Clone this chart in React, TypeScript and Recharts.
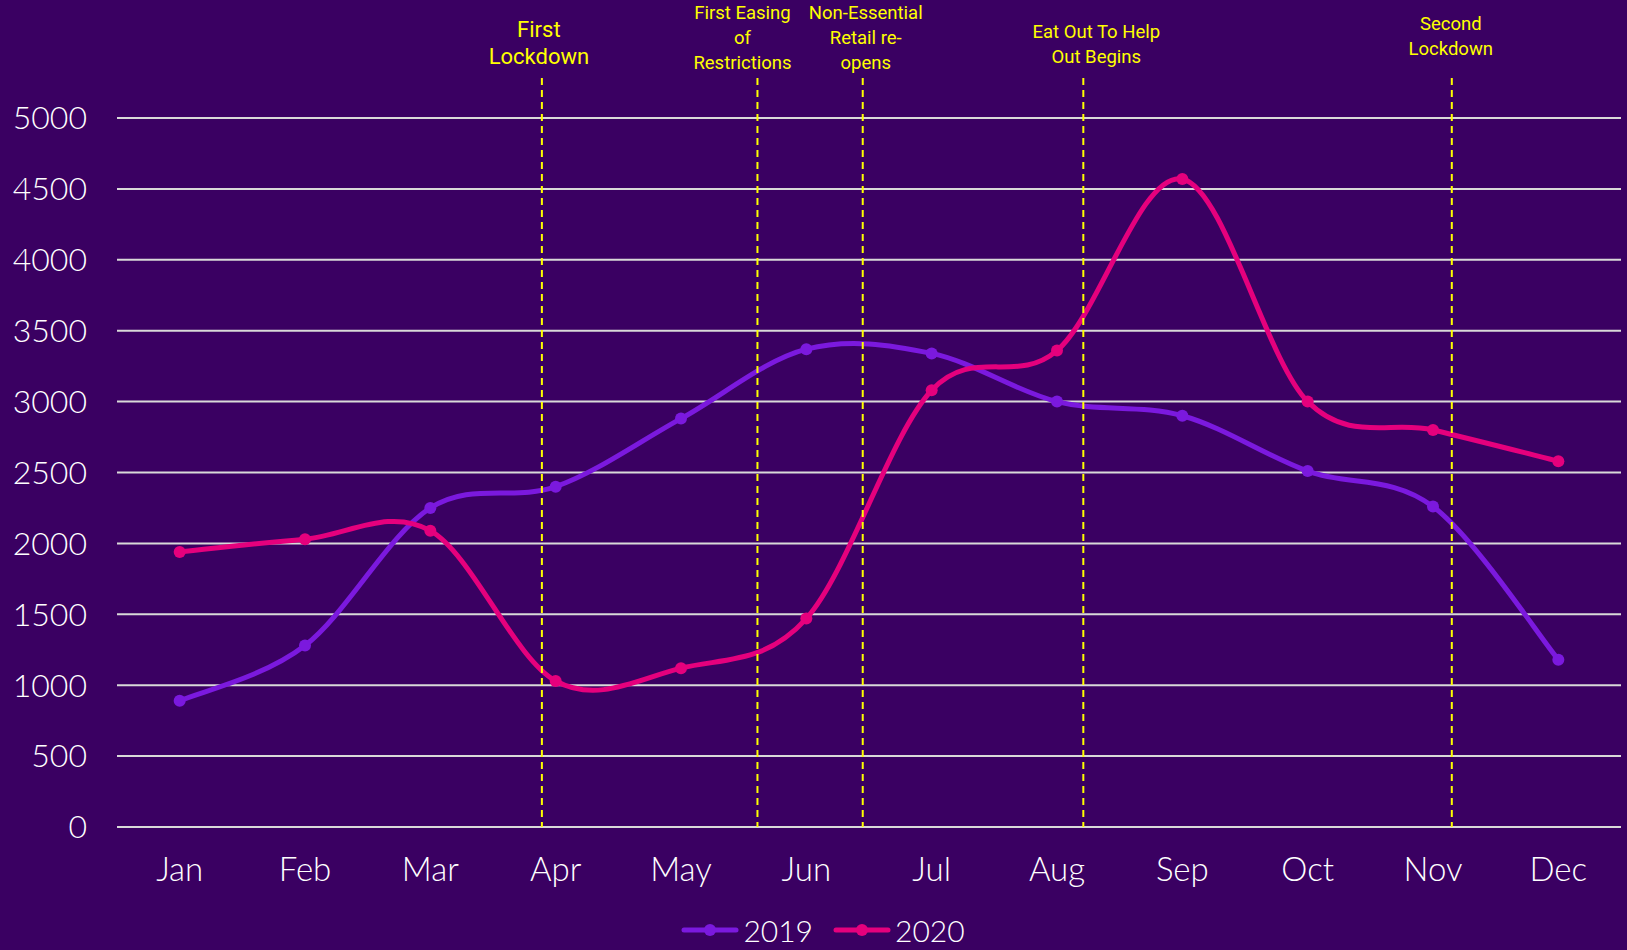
import React from 'react';
import { LineChart, Line, XAxis, YAxis, CartesianGrid, ReferenceLine, Legend } from 'recharts';

// Monthly figures, 2019 vs 2020
const months = ['Jan', 'Feb', 'Mar', 'Apr', 'May', 'Jun', 'Jul', 'Aug', 'Sep', 'Oct', 'Nov', 'Dec'];
const monthIndex = [1, 2, 3, 4, 5, 6, 7, 8, 9, 10, 11, 12];
const values2019 = [890, 1280, 2250, 2400, 2880, 3370, 3340, 3000, 2900, 2510, 2260, 1180];
const values2020 = [1940, 2030, 2090, 1030, 1120, 1470, 3080, 3360, 4570, 3000, 2800, 2580];
const yTicks = [0, 500, 1000, 1500, 2000, 2500, 3000, 3500, 4000, 4500, 5000];

// Key events, placed on the month scale (1 = Jan … 12 = Dec)
const eventAt = [3.89, 5.61, 6.45, 8.21, 11.15];
const eventText = [
  ['First', 'Lockdown'],
  ['First Easing', 'of', 'Restrictions'],
  ['Non-Essential', 'Retail re-', 'opens'],
  ['Eat Out To Help', 'Out Begins'],
  ['Second', 'Lockdown'],
];

const data = monthIndex.map((m, i) => ({
  m,
  y2019: values2019[i],
  y2020: values2020[i],
}));

// Styling
const BG = '#3A0062';
const C2019 = '#7B19DE';
const C2020 = '#E5007D';
const GRID = '#D9D9D9';
const YELLOW = '#FFFF00';
const FONT = 'Lato, "Noto Sans", sans-serif';
const CAPTION_FONT = 'Roboto, "Noto Sans", sans-serif';

// caption placement: horizontal shift from the marker, font size, row centres
const captionLayout = [
  { dx: -3, size: 22, rows: [29, 56] },
  { dx: -15, size: 18.5, rows: [12.5, 37, 62] },
  { dx: 3, size: 18.5, rows: [12.5, 37, 62] },
  { dx: 13, size: 18.5, rows: [31, 56] },
  { dx: -1, size: 18.5, rows: [23, 48] },
];
const MARKER_TOP = 78;

// Smooth curve through every point (cubic Bézier, Catmull-Rom style tangents)
function smoothCurve(context: any) {
  let pts: number[][] = [];
  return {
    areaStart() {},
    areaEnd() {},
    lineStart() {
      pts = [];
    },
    point(x: number, y: number) {
      pts.push([+x, +y]);
    },
    lineEnd() {
      const n = pts.length;
      if (n === 0) return;
      context.moveTo(pts[0][0], pts[0][1]);
      for (let i = 0; i < n - 1; i++) {
        const p0 = pts[Math.max(i - 1, 0)];
        const p1 = pts[i];
        const p2 = pts[i + 1];
        const p3 = pts[Math.min(i + 2, n - 1)];
        context.bezierCurveTo(
          p1[0] + (p2[0] - p0[0]) / 6,
          p1[1] + (p2[1] - p0[1]) / 6,
          p2[0] - (p3[0] - p1[0]) / 6,
          p2[1] - (p3[1] - p1[1]) / 6,
          p2[0],
          p2[1]
        );
      }
    },
  };
}

function EventMarker(props: any) {
  const { x1, x2, y1, y2, lines, layout } = props;
  const x = (Number(x1) + Number(x2)) / 2;
  const bottom = Math.max(Number(y1), Number(y2));
  return (
    <g>
      <line
        x1={x}
        x2={x}
        y1={MARKER_TOP}
        y2={bottom}
        stroke={YELLOW}
        strokeWidth={2}
        strokeDasharray="7 5"
      />
      {lines.map((t: string, i: number) => (
        <text
          key={i}
          x={x + layout.dx}
          y={layout.rows[i]}
          dy="0.36em"
          textAnchor="middle"
          fill={YELLOW}
          fontSize={layout.size}
          fontFamily={CAPTION_FONT}
        >
          {t}
        </text>
      ))}
    </g>
  );
}

function LegendContent(props: any) {
  const { payload } = props;
  return (
    <div
      style={{
        height: 60,
        paddingTop: 20,
        boxSizing: 'border-box',
        display: 'flex',
        justifyContent: 'center',
        alignItems: 'center',
        paddingLeft: 25,
      }}
    >
      {(payload || []).map((entry: any, i: number) => (
        <div key={i} style={{ display: 'flex', alignItems: 'center', marginRight: i === 0 ? 20 : 0 }}>
          <svg width={58} height={14}>
            <line x1={3} y1={7} x2={55} y2={7} stroke={entry.color} strokeWidth={5} strokeLinecap="round" />
            <circle cx={29} cy={7} r={6} fill={entry.color} />
          </svg>
          <span
            style={{
              color: '#FFFFFF',
              fontSize: 30,
              fontWeight: 300,
              fontFamily: FONT,
              marginLeft: 4,
              lineHeight: '40px',
            }}
          >
            {entry.value}
          </span>
        </div>
      ))}
    </div>
  );
}

export default function App() {
  return (
    <div style={{ position: 'fixed', left: 0, top: 0, width: 1627, height: 950, background: BG }}>
      <LineChart width={1627} height={950} data={data} margin={{ top: 118, right: 6, bottom: 0, left: 0 }}>
        <CartesianGrid horizontal vertical={false} stroke={GRID} strokeWidth={2} />
        <XAxis
          type="number"
          dataKey="m"
          domain={[0.5, 12.5]}
          ticks={monthIndex}
          interval={0}
          tickFormatter={(v: number) => months[v - 1]}
          axisLine={false}
          tickLine={false}
          tickSize={0}
          tickMargin={31}
          height={63}
          tick={{ fill: '#FFFFFF', fontSize: 33, fontWeight: 300, fontFamily: FONT }}
        />
        <YAxis
          type="number"
          domain={[0, 5000]}
          ticks={yTicks}
          interval={0}
          width={117}
          axisLine={false}
          tickLine={false}
          tickSize={0}
          tickMargin={30}
          tick={{ fill: '#FFFFFF', fontSize: 32, fontWeight: 300, fontFamily: FONT }}
        />
        <Legend verticalAlign="bottom" content={<LegendContent />} />
        <Line
          dataKey="y2019"
          name="2019"
          type={smoothCurve as any}
          stroke={C2019}
          strokeWidth={5}
          dot={{ r: 6, fill: C2019, stroke: C2019, strokeWidth: 0 }}
          activeDot={false}
          isAnimationActive={false}
        />
        <Line
          dataKey="y2020"
          name="2020"
          type={smoothCurve as any}
          stroke={C2020}
          strokeWidth={5}
          dot={{ r: 6, fill: C2020, stroke: C2020, strokeWidth: 0 }}
          activeDot={false}
          isAnimationActive={false}
        />
        {eventAt.map((x, i) => (
          <ReferenceLine
            key={i}
            x={x}
            stroke={YELLOW}
            shape={(p: any) => <EventMarker {...p} lines={eventText[i]} layout={captionLayout[i]} />}
          />
        ))}
      </LineChart>
    </div>
  );
}
